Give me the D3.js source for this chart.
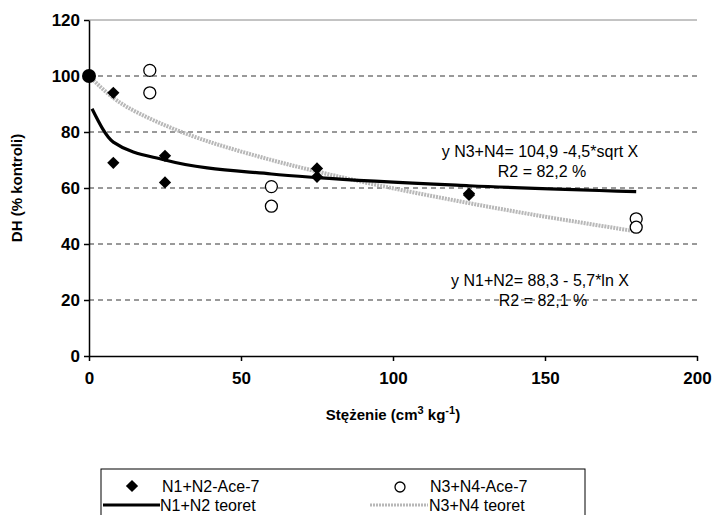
<!DOCTYPE html>
<html><head><meta charset="utf-8">
<script src="https://cdn.jsdelivr.net/npm/d3@7"></script>
<style>body{margin:0;background:#fff}text{font-family:Arial,"Liberation Sans",sans-serif}</style>
</head><body><div id="chart"></div>
<script>
// observed points
var diamondsX = [8, 8, 25, 25, 75, 75, 125, 125];
var diamondsY = [94, 69, 71.5, 62, 67, 64, 58, 57.5];
var circlesX = [20, 20, 60, 60, 180, 180];
var circlesY = [102, 94, 60.5, 53.5, 49, 46];
var controlX = 0, controlY = 100;
// fitted curves, values read at the data concentrations
var fitX12 = [1, 8, 25, 60, 75, 125, 180];
var fitY12 = [88.3, 76.4, 70.0, 65.0, 63.7, 60.8, 58.7];
var fitX34 = [0, 8, 20, 25, 60, 75, 125, 180];
var fitY34 = [100, 92.2, 84.8, 82.4, 70.0, 65.9, 54.6, 44.5];
var xTicks = [0, 50, 100, 150, 200];
var yTicks = [0, 20, 40, 60, 80, 100, 120];

var svg = d3.select("#chart").append("svg").attr("width", 716).attr("height", 515);
var x = d3.scaleLinear().domain([0, 200]).range([89, 697]);
var y = d3.scaleLinear().domain([0, 120]).range([356, 20]);

// grid
svg.selectAll(".grid").data([20, 40, 60, 80, 100]).enter().append("line")
    .attr("x1", x(0)).attr("x2", x(200))
    .attr("y1", function(d){return y(d);}).attr("y2", function(d){return y(d);})
    .attr("stroke", "#000").attr("stroke-dasharray", "5,4").attr("stroke-width", 0.8);
svg.append("line").attr("x1", x(0)).attr("x2", x(200)).attr("y1", y(120)).attr("y2", y(120))
    .attr("stroke", "#888").attr("stroke-width", 1);

var xAxis = svg.append("g").attr("transform", "translate(0," + y(0) + ")")
    .call(d3.axisBottom(x).tickValues(xTicks).tickSize(5).tickSizeOuter(0));
var yAxis = svg.append("g").attr("transform", "translate(" + x(0) + ",0)")
    .call(d3.axisLeft(y).tickValues(yTicks).tickSize(5).tickSizeOuter(0));
[xAxis, yAxis].forEach(function(a){
    a.selectAll("path,line").attr("stroke", "#000").attr("stroke-width", 1.5);
    a.selectAll("text").attr("font-size", 17).attr("font-weight", "bold").attr("fill", "#000");
});
xAxis.selectAll("text").attr("dy", "1.2em");
yAxis.selectAll("text").attr("x", -9);

svg.append("text").attr("transform", "translate(22," + y(60) + ") rotate(-90)")
    .attr("text-anchor", "middle").attr("font-size", 15).attr("font-weight", "bold").text("DH (% kontroli)");
var xl = svg.append("text").attr("x", 393).attr("y", 420).attr("text-anchor", "middle")
    .attr("font-size", 15).attr("font-weight", "bold");
xl.append("tspan").text("Stężenie (cm");
xl.append("tspan").attr("dy", -6).attr("font-size", 11).text("3");
xl.append("tspan").attr("dy", 6).text(" kg");
xl.append("tspan").attr("dy", -6).attr("font-size", 11).text("-1");
xl.append("tspan").attr("dy", 6).text(")");

var line = d3.line().x(function(d){return x(d[0]);}).y(function(d){return y(d[1]);}).curve(d3.curveMonotoneX);
svg.append("path").attr("d", line(d3.zip(fitX34, fitY34))).attr("fill", "none")
    .attr("stroke", "#b8b8b8").attr("stroke-width", 4).attr("stroke-dasharray", "2,1");
svg.append("path").attr("d", line(d3.zip(fitX12, fitY12))).attr("fill", "none")
    .attr("stroke", "#000").attr("stroke-width", 3.2);

var diamond = d3.symbol().type(d3.symbolSquare).size(75);
svg.selectAll(".dia").data(d3.zip(diamondsX, diamondsY)).enter().append("path")
    .attr("d", diamond).attr("transform", function(d){return "translate(" + x(d[0]) + "," + y(d[1]) + ") rotate(45)";});
svg.selectAll(".circ").data(d3.zip(circlesX, circlesY)).enter().append("circle")
    .attr("cx", function(d){return x(d[0]);}).attr("cy", function(d){return y(d[1]);})
    .attr("r", 6).attr("fill", "#fff").attr("stroke", "#000").attr("stroke-width", 1.3);
svg.append("circle").attr("cx", x(controlX)).attr("cy", y(controlY)).attr("r", 7).attr("fill", "#000");

var ann = [["y N3+N4= 104,9 -4,5*sqrt X", 540, 157], ["R2 = 82,2 %", 542, 177],
           ["y N1+N2= 88,3 - 5,7*ln X", 540, 286], ["R2 = 82,1 %", 543, 306]];
svg.selectAll(".ann").data(ann).enter().append("text")
    .attr("x", function(d){return d[1];}).attr("y", function(d){return d[2];})
    .attr("text-anchor", "middle").attr("font-size", 16).text(function(d){return d[0];});

// legend
var lg = svg.append("g");
lg.append("rect").attr("x", 101).attr("y", 469).attr("width", 484).attr("height", 60)
    .attr("fill", "#fff").attr("stroke", "#000").attr("stroke-width", 1);
lg.append("path").attr("d", diamond).attr("transform", "translate(132,486) rotate(45)");
lg.append("circle").attr("cx", 400).attr("cy", 487).attr("r", 5).attr("fill", "#fff").attr("stroke", "#000").attr("stroke-width", 1.3);
lg.append("line").attr("x1", 103).attr("x2", 160).attr("y1", 505).attr("y2", 505).attr("stroke", "#000").attr("stroke-width", 3.2);
lg.append("line").attr("x1", 370).attr("x2", 428).attr("y1", 505).attr("y2", 505).attr("stroke", "#b8b8b8").attr("stroke-width", 3).attr("stroke-dasharray", "2,1");
[["N1+N2-Ace-7", 162, 492], ["N3+N4-Ace-7", 430, 492], ["N1+N2 teoret", 160, 511], ["N3+N4 teoret", 429, 511]]
    .forEach(function(d){
        lg.append("text").attr("x", d[1]).attr("y", d[2]).attr("font-size", 16).text(d[0]);
    });
</script></body></html>
